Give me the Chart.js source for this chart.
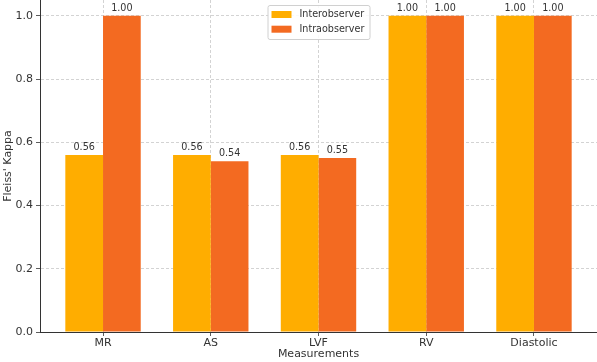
<!DOCTYPE html>
<html lang="en">
<head>
<meta charset="UTF-8">
<title>Fleiss' Kappa</title>
<style>
  body { margin: 0; background: #fff; }
  #wrap { width: 597px; height: 362px; }
</style>
</head>
<body>
<div id="wrap"><canvas id="kappaChart" width="597" height="362"></canvas></div>
<script src="https://cdn.jsdelivr.net/npm/chart.js"></script>
<script>
const measurements = ['MR', 'AS', 'LVF', 'RV', 'Diastolic'];
const interobserver = [0.56, 0.56, 0.56, 1.00, 1.00];
const intraobserver = [1.00, 0.54, 0.55, 1.00, 1.00];
const yTicks = [0, 0.2, 0.4, 0.6, 0.8, 1.0];

Chart.defaults.font.family = '"DejaVu Sans", sans-serif';
Chart.defaults.color = '#333';

// value labels on top of each bar
const valueLabels = {
  id: 'valueLabels',
  afterDatasetsDraw(chart) {
    const ctx = chart.ctx;
    ctx.save();
    ctx.font = '9.6px "DejaVu Sans"';
    ctx.fillStyle = '#333';
    ctx.textAlign = 'center';
    ctx.textBaseline = 'bottom';
    chart.data.datasets.forEach((ds, i) => {
      chart.getDatasetMeta(i).data.forEach((bar, j) => {
        ctx.fillText(ds.data[j].y.toFixed(2), bar.x, bar.y - 3);
      });
    });
    ctx.restore();
  }
};

// matplotlib style legend box inside the plot, top centre
const boxLegend = {
  id: 'boxLegend',
  afterDraw(chart) {
    const ctx = chart.ctx;
    const area = chart.chartArea;
    const w = 102, h = 34;
    const left = (area.left + area.right) / 2 - w / 2;
    const top = area.top + 5;
    ctx.save();
    ctx.fillStyle = 'rgba(255,255,255,0.85)';
    ctx.strokeStyle = '#d0d0d0';
    ctx.lineWidth = 1;
    ctx.beginPath();
    ctx.roundRect(left + 0.5, top + 0.5, w, h, 2);
    ctx.fill();
    ctx.stroke();
    ctx.font = '9.6px "DejaVu Sans"';
    ctx.textBaseline = 'middle';
    chart.data.datasets.forEach((ds, i) => {
      const y = top + 9.5 + i * 14.7;
      ctx.fillStyle = ds.backgroundColor;
      ctx.fillRect(left + 4, y - 3.5, 20, 7);
      ctx.fillStyle = '#333';
      ctx.fillText(ds.label, left + 32, y);
    });
    ctx.restore();
  }
};

const ctx = document.getElementById('kappaChart').getContext('2d');
new Chart(ctx, {
  type: 'bar',
  data: {
    datasets: [{
      label: 'Interobserver',
      data: interobserver.map((v, i) => ({ x: i, y: v })),
      backgroundColor: '#FFAD00'
    }, {
      label: 'Intraobserver',
      data: intraobserver.map((v, i) => ({ x: i, y: v })),
      backgroundColor: '#F36A21'
    }]
  },
  options: {
    responsive: false,
    animation: false,
    layout: { padding: 0 },
    datasets: {
      bar: { categoryPercentage: 0.7, barPercentage: 1.0 }
    },
    plugins: {
      legend: { display: false },
      tooltip: { enabled: false }
    },
    scales: {
      x: {
        type: 'linear',
        offset: false,
        min: -0.585,
        max: 4.585,
        afterBuildTicks: s => { s.ticks = measurements.map((m, i) => ({ value: i })); },
        afterFit: s => { s.height = 30; s.paddingLeft = 0; s.paddingRight = 0; },
        ticks: {
          callback: v => measurements[v],
          font: { size: 11 },
          padding: 1,
          maxRotation: 0
        },
        grid: { offset: false, color: '#c8c8c8', lineWidth: 0.8, tickLength: 4, tickColor: '#333' },
        border: { color: '#333', width: 1, dash: [3, 2] },
        title: { display: true, text: 'Measurements', font: { size: 11 }, padding: { top: 0, bottom: 1 } }
      },
      y: {
        min: 0,
        max: 1.05,
        afterBuildTicks: s => { s.ticks = yTicks.map(v => ({ value: v })); },
        afterFit: s => { s.width = 40; s.paddingTop = 0; s.paddingBottom = 0; },
        ticks: {
          callback: v => v.toFixed(1),
          font: { size: 11 },
          padding: 3
        },
        grid: { color: '#c8c8c8', lineWidth: 0.8, tickLength: 4, tickColor: '#333' },
        border: { color: '#333', width: 1, dash: [3, 2] },
        title: { display: true, text: "Fleiss' Kappa", font: { size: 11 }, padding: { top: 2, bottom: 0 } }
      }
    }
  },
  plugins: [valueLabels, boxLegend]
});
</script>
</body>
</html>
